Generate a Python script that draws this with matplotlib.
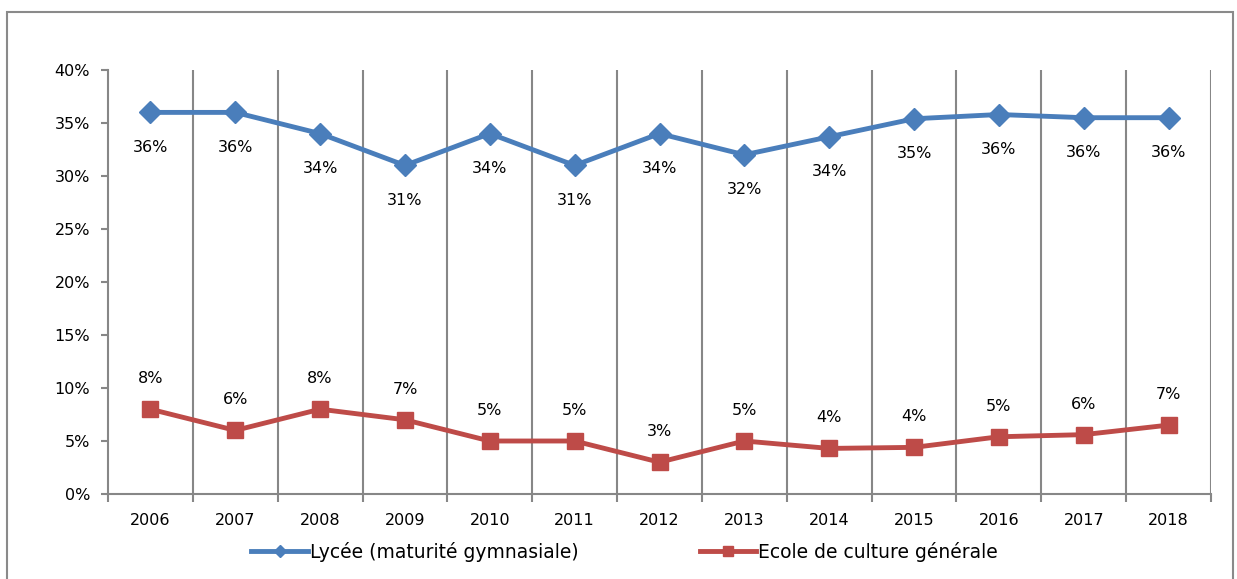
import matplotlib.pyplot as plt
from matplotlib.patches import Rectangle
from matplotlib.lines import Line2D

years = [2006, 2007, 2008, 2009, 2010, 2011, 2012, 2013, 2014, 2015, 2016, 2017, 2018]
lycee = [36.0, 36.0, 34.0, 31.0, 34.0, 31.0, 34.0, 32.0, 33.7, 35.4, 35.8, 35.5, 35.5]
ecg = [8.0, 6.0, 8.0, 7.0, 5.0, 5.0, 3.0, 5.0, 4.3, 4.4, 5.4, 5.6, 6.5]
lycee_labels = ["36%", "36%", "34%", "31%", "34%", "31%", "34%", "32%", "34%", "35%", "36%", "36%", "36%"]
ecg_labels = ["8%", "6%", "8%", "7%", "5%", "5%", "3%", "5%", "4%", "4%", "5%", "6%", "7%"]
series_names = ["Lycée (maturité gymnasiale)", "Ecole de culture générale"]

blue = "#4A7EBB"
red = "#BE4B48"
grey = "#878787"

plt.rcParams["font.family"] = ["DejaVu Sans"]
plt.rcParams["font.size"] = 11.5

fig = plt.figure(figsize=(12.37, 5.79), dpi=100)
fig.patches.append(Rectangle((7 / 1237, -0.1), 1226 / 1237, 1.1 - 12 / 579,
                             transform=fig.transFigure, fill=False,
                             edgecolor="#8a8a8a", lw=1.5))

ax = fig.add_axes([108 / 1237, 1 - 494 / 579, 1103 / 1237, 424 / 579])
x = list(range(len(years)))

ax.plot(x, lycee, color=blue, lw=3.5, marker="D", ms=11.5, zorder=3)
ax.plot(x, ecg, color=red, lw=3.5, marker="s", ms=12, zorder=3)

for xi, v, t in zip(x, lycee, lycee_labels):
    ax.annotate(t, (xi, v), xytext=(0, -25), textcoords="offset points",
                ha="center", va="center")
for xi, v, t in zip(x, ecg, ecg_labels):
    ax.annotate(t, (xi, v), xytext=(0, 22), textcoords="offset points",
                ha="center", va="center")

ax.set_xlim(-0.5, len(years) - 0.5)
ax.set_ylim(0, 40)
ax.set_yticks(range(0, 41, 5))
ax.set_yticklabels([f"{v}%" for v in range(0, 41, 5)])
ax.set_xticks(x)
ax.set_xticklabels([str(y) for y in years])
ax.tick_params(axis="x", length=0, pad=14)
ax.tick_params(axis="y", length=5, color=grey, width=1.5, pad=8)

bounds = [i + 0.5 for i in range(len(years))]
for b in bounds:
    ax.axvline(b, color=grey, lw=1.5, zorder=1)
ax.set_xticks([-0.5] + bounds, minor=True)
ax.tick_params(axis="x", which="minor", length=6, color=grey, width=1.5)

for s in ["top", "right"]:
    ax.spines[s].set_visible(False)
for s in ["left", "bottom"]:
    ax.spines[s].set_color(grey)
    ax.spines[s].set_linewidth(1.5)

handles = [Line2D([], [], color=blue, lw=3.5, marker="D", ms=6),
           Line2D([], [], color=red, lw=3.5, marker="s", ms=7)]
fig.legend(handles, series_names, loc="center", bbox_to_anchor=(0.505, 1 - 552 / 579),
           ncol=2, frameon=False, handlelength=3.0, handletextpad=0.1,
           columnspacing=6.5, fontsize=13.5)

fig.savefig("out.png", dpi=100)
